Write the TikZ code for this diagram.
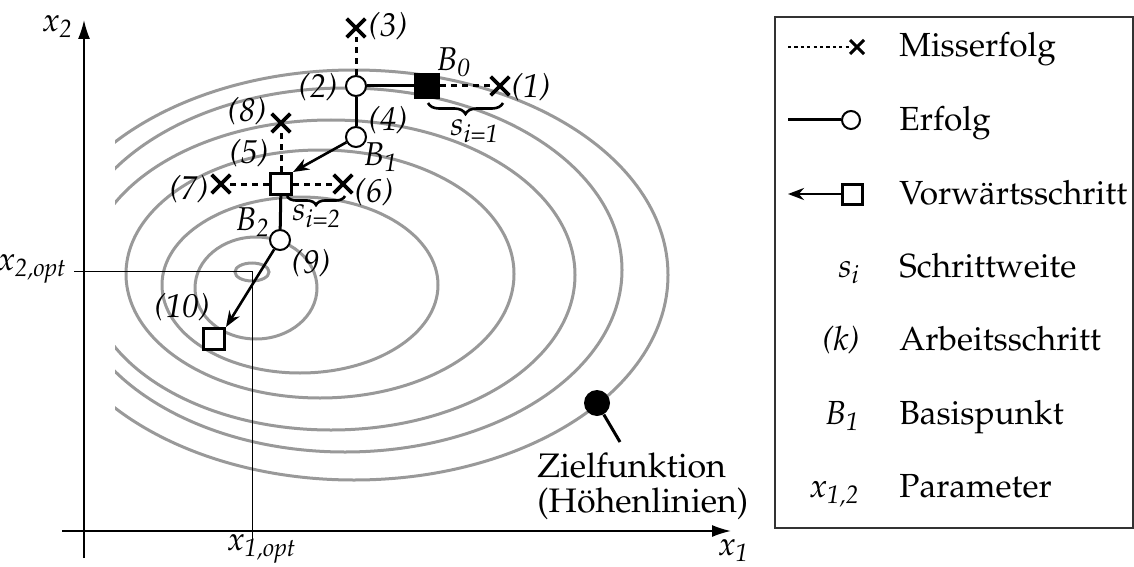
\documentclass[tikz,border=0pt]{standalone}
\usepackage[T1]{fontenc}
\usepackage{mathpazo}
\usetikzlibrary{arrows.meta,shapes.misc,decorations.pathreplacing}
\begin{document}
\begin{tikzpicture}[x=0.5pt,y=-0.5pt,
  contour/.style={draw=black!40, line width=1.5pt},
  axis/.style={line width=0.8pt, -{Latex[length=9.5pt,width=6pt]}},
  thin/.style={line width=0.5pt},
  fsq/.style={rectangle, draw, fill=black, line width=1.2pt, minimum size=12pt, inner sep=0pt},
  osq/.style={rectangle, draw, fill=white, line width=1.5pt, minimum size=10.5pt, inner sep=0pt},
  circ/.style={circle, draw, fill=white, line width=1pt, minimum size=10pt, inner sep=0pt},
  crs/.style={cross out, draw, line width=1.8pt, minimum size=7.5pt, inner sep=0pt},
  crssmall/.style={cross out, draw, line width=1.5pt, minimum size=5.5pt, inner sep=0pt},
  sline/.style={line width=1.5pt},
  dline/.style={line width=1.5pt, dash pattern=on 3pt off 2.5pt},
  dthin/.style={line width=1pt, dash pattern=on 1.6pt off 1.6pt},
  fwd/.style={line width=1.3pt, -{Stealth[length=8pt,width=6pt]}},
  brc/.style={line width=1.3pt, decorate, decoration={brace, mirror, amplitude=#1}},
  lab/.style={inner sep=0pt, font=\fontsize{16.5}{19}\selectfont\itshape},
  legt/.style={inner sep=0pt, anchor=base west, font=\fontsize{16.7}{20}\selectfont},
  legs/.style={inner sep=0pt, anchor=base east, font=\fontsize{16.7}{20}\selectfont\itshape},
  bigt/.style={inner sep=0pt, anchor=base west, font=\fontsize{17}{20}\selectfont},
  legbox/.style={draw=black!80, line width=0.7pt}
]
\useasboundingbox (0,0) rectangle (1134,567);

% contour lines
\begin{scope}
  \clip (115,0) rectangle (780,567);
  \draw[contour] (252,272) ellipse [x radius=8.5pt, y radius=4.5pt];
  \draw[contour] (256,288) ellipse [x radius=30.5pt, y radius=25.5pt];
  \draw[contour] (300,285) ellipse [x radius=69pt, y radius=44pt];
  \draw[contour] (320,274) ellipse [x radius=97pt, y radius=62pt];
  \draw[contour] (331,275) ellipse [x radius=122pt, y radius=77.5pt];
  \draw[contour] (345,270) ellipse [x radius=138.5pt, y radius=91pt];
  \draw[contour] (354,275) ellipse [x radius=157pt, y radius=102.5pt];
\end{scope}

% axes
\coordinate (yb) at (84,558);
\coordinate (yt) at (84,20);
\coordinate (xl) at (62,531);
\coordinate (xr) at (731,531);
\draw[axis] (yb) -- (yt);
\draw[axis] (xl) -- (xr);
\node[lab] (lx2) at (58,26) {x\textsubscript{2}};
\node[lab] (lx1) at (734,550) {x\textsubscript{1}};

% optimum
\coordinate (opt) at (252,271);
\coordinate (optl) at (74,271);
\coordinate (optb) at (252,540);
\draw[thin] (optl) -- (opt) -- (optb);
\node[lab, anchor=east] (lx2o) at (67,269) {x\textsubscript{2,opt}};
\node[lab] (lx1o) at (262,549) {x\textsubscript{1,opt}};

% search points
\node[fsq] (B0) at (427,86) {};
\node[circ] (p2) at (356,86) {};
\node[circ] (p4) at (356,137) {};
\node[osq] (s5) at (281,184) {};
\node[circ] (p9) at (280,240) {};
\node[osq] (s10) at (214,339) {};
\node[crs] (c1) at (500,86) {};
\node[crs] (c3) at (356,28) {};
\node[crs] (c8) at (281,123) {};
\node[crs] (c7) at (221,184) {};
\node[crs] (c6) at (343,184) {};

\draw[sline] (p2) -- (B0);
\draw[dline] (B0) -- (c1);
\draw[dline] (p2) -- (c3);
\draw[sline] (p2) -- (p4);
\draw[fwd] (p4) -- (s5.north east);
\draw[dline] (s5) -- (c8);
\draw[dline] (s5) -- (c7);
\draw[dline] (s5) -- (c6);
\draw[sline] (s5) -- (p9);
\draw[fwd] (p9) -- (s10.north east);

% braces
\coordinate (b1a) at (428,103);
\coordinate (b1b) at (503,103);
\coordinate (b2a) at (287,196);
\coordinate (b2b) at (345,196);
\draw[brc=5.5pt] (b1a) -- (b1b);
\draw[brc=4.5pt] (b2a) -- (b2b);
\node[lab] (ls1) at (475,131) {s\textsubscript{i=1}};
\node[lab] (ls2) at (317,216) {s\textsubscript{i=2}};

% labels
\node[lab] (l3) at (388,26) {(3)};
\node[lab] (l2) at (318,87) {(2)};
\node[lab] (lB0) at (454,62) {B\textsubscript{0}};
\node[lab] (l1) at (531,87) {(1)};
\node[lab] (l4) at (388,120) {(4)};
\node[lab] (lB1) at (381,157) {B\textsubscript{1}};
\node[lab] (l8) at (247,111) {(8)};
\node[lab] (l5) at (249,153) {(5)};
\node[lab] (l7) at (189,189) {(7)};
\node[lab] (l6) at (374,192) {(6)};
\node[lab] (lB2) at (253,222) {B\textsubscript{2}};
\node[lab] (l9) at (311,263) {(9)};
\node[lab] (l10) at (182,307) {(10)};

% objective function marker
\node[circle, fill=black, minimum size=13pt, inner sep=0pt] (dot) at (597,403) {};
\coordinate (dotend) at (620,442);
\draw[line width=1.5pt] (dot) -- (dotend);
\node[bigt] (zf1) at (537,477) {Zielfunktion};
\node[bigt] (zf2) at (537,512) {(H\"ohenlinien)};

% legend
\draw[legbox] (775,17) rectangle (1133,528);
\coordinate (m1) at (788,47);
\node[crssmall] (m1x) at (857,47) {};
\draw[dthin] (m1) -- (m1x);
\node[legt] (t1) at (899,57) {Misserfolg};
\coordinate (m2) at (788,120);
\node[circ, minimum size=9pt] (m2o) at (851,120) {};
\draw[sline] (m2) -- (m2o);
\node[legt] (t2) at (899,130) {Erfolg};
\coordinate (m3) at (788,194);
\node[osq, minimum size=10pt] (m3s) at (852,194) {};
\draw[fwd] (m3s) -- (m3);
\node[legt] (t3) at (899,204) {Vorw\"artsschritt};
\node[legs] (k4) at (860,277) {s\textsubscript{i}};
\node[legt] (t4) at (899,277) {Schrittweite};
\node[legs] (k5) at (860,350) {(k)};
\node[legt] (t5) at (899,350) {Arbeitsschritt};
\node[legs] (k6) at (860,424) {B\textsubscript{1}};
\node[legt] (t6) at (899,424) {Basispunkt};
\node[legs] (k7) at (860,497) {x\textsubscript{1,2}};
\node[legt] (t7) at (899,497) {Parameter};
\end{tikzpicture}
\end{document}
